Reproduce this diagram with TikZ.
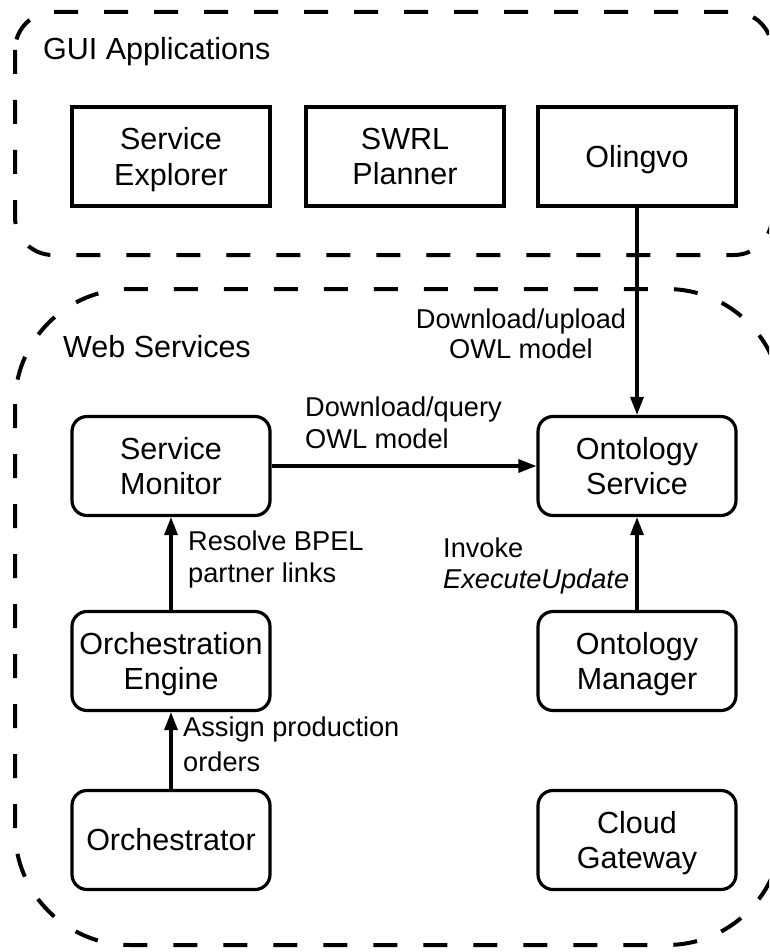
\documentclass[tikz,border=0pt]{standalone}
\usepackage{fontspec}
\setmainfont{Liberation Sans}
\usetikzlibrary{arrows.meta}
% keep the last line of a node from adding its descender to the box
\newcommand\nodepth[1]{\raisebox{0pt}[\height][0pt]{#1}}

\begin{document}
\begin{tikzpicture}[x=1pt,y=-1pt,
  box/.style={draw, line width=3.2pt, minimum width=198pt, minimum height=99pt,
    inner sep=0pt, align=center, font=\fontsize{30.5}{35.5}\selectfont},
  rbox/.style={box, rounded corners=15pt},
  group/.style={draw, line width=4pt, dash pattern=on 24pt off 26pt},
  title/.style={anchor=base west, inner sep=0pt, font=\fontsize{30.5}{35.5}\selectfont},
  lbl/.style={anchor=base west, inner sep=0pt, align=left,
    font=\fontsize{27.2}{32}\selectfont},
  arr/.style={line width=3.2pt, -{Triangle[length=18pt,width=13pt]}}
]
\useasboundingbox (0,0) rectangle (769,952);
\clip (0,0) rectangle (769,952);

% group frames
\draw[group, rounded corners=38pt] (15,12) rectangle (772,255);
\draw[group, rounded corners=115pt] (15,289) rectangle (782,945);

\node[title] (guititle) at (43,60) {GUI Applications};
\node[title] (webtitle) at (63,357) {Web Services};

% GUI applications
\node[box] (explorer) at (171,156.5) {Service\\\nodepth{Explorer}};
\node[box] (swrl) at (405,156.5) {SWRL\\Planner};
\node[box] (olingvo) at (637,156.5) {\nodepth{Olingvo}};

% web services
\node[rbox] (monitor) at (171,466) {Service\\Monitor};
\node[rbox] (ontserv) at (637,466) {Ontology\\Service};
\node[rbox] (engine) at (171,661) {Orchestration\\\nodepth{Engine}};
\node[rbox] (manager) at (637,661) {Ontology\\\nodepth{Manager}};
\node[rbox] (orch) at (171,840) {Orchestrator};
\node[rbox] (cloud) at (637,840) {Cloud\\\nodepth{Gateway}};

% connectors
\draw[arr] (olingvo) -- (ontserv);
\draw[arr] (monitor) -- (ontserv);
\draw[arr] (engine) -- (monitor);
\draw[arr] (orch) -- (engine);
\draw[arr] (manager) -- (ontserv);

% connector labels (placed by the baseline of their last line)
\node[lbl, align=center, anchor=base, font=\fontsize{27.2}{30}\selectfont]
  (lblupload) at (521,358) {Download/upload\\OWL model};
\node[lbl] (lblquery) at (305,448) {Download/query\\OWL model};
\node[lbl] (lblresolve) at (188,582) {Resolve BPEL\\partner links};
\node[lbl, font=\fontsize{27.2}{31}\selectfont] (lblinvoke) at (443,588) {Invoke\\\textit{ExecuteUpdate}};
\node[lbl, font=\fontsize{27.2}{35}\selectfont] (lblassign) at (183,771) {Assign production\\orders};
\end{tikzpicture}
\end{document}
